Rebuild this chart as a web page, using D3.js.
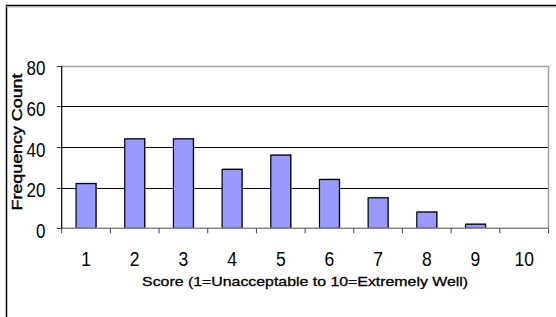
<!DOCTYPE html>
<html><head><meta charset="utf-8">
<script src="https://cdn.jsdelivr.net/npm/d3@7/dist/d3.min.js"></script>
<style>body{margin:0;background:#fff}svg{display:block;font-family:"Liberation Sans",Arial,sans-serif}</style>
</head><body><svg id="c" width="556" height="317"></svg>
<script>
const categories = ["1","2","3","4","5","6","7","8","9","10"];
const counts = [22, 44, 44, 29, 36, 24, 15, 8, 2, 0];
const yTicks = [0, 20, 40, 60, 80];
const xTitle = "Score (1=Unacceptable to 10=Extremely Well)";
const yTitle = "Frequency Count";

const svg = d3.select("#c");
const L = 61.7, R = 548.5, T = 65.7, B = 228.3;
const x = d3.scaleBand().domain(categories).range([L, R]).paddingInner(0.59).paddingOuter(0.295);
const xb = d3.scaleBand().domain(categories).range([L, R]);
const y = d3.scaleLinear().domain([0, 80]).range([B, T]);

// chart border
svg.append("rect").attr("x", 6.5).attr("y", 5.5).attr("width", 600).attr("height", 400)
  .attr("fill", "none").attr("stroke", "#000").attr("stroke-width", 1.5);
svg.append("line").attr("x1", 6).attr("x2", 556).attr("y1", 6.8).attr("y2", 6.8).attr("stroke", "#999").attr("stroke-width", 1);

// gridlines
svg.append("g").selectAll("line").data(yTicks.filter(d => d > 0 && d < 80)).join("line")
  .attr("x1", L).attr("x2", R).attr("y1", d => Math.round(y(d)) + 0.5).attr("y2", d => Math.round(y(d)) + 0.5)
  .attr("stroke", "#000").attr("stroke-width", 1);
// plot border top & right (gray)
svg.append("path").attr("d", `M${L},${Math.round(T)+0.5}H${R}V${B}`).attr("fill", "none").attr("stroke", "#a0a0a0").attr("stroke-width", 1.5);

// bars with shadow
const barData = counts.map((v, i) => ({c: categories[i], v}));
svg.append("g").selectAll("rect").data(barData).join("rect")
  .attr("x", d => x(d.c) + 1).attr("y", d => y(d.v) - 1).attr("width", x.bandwidth()).attr("height", d => B - y(d.v) + 1)
  .attr("fill", "#aaa").attr("display", d => d.v > 0 ? null : "none");
svg.append("g").selectAll("rect").data(barData).join("rect")
  .attr("x", d => x(d.c)).attr("y", d => y(d.v)).attr("width", x.bandwidth()).attr("height", d => B - y(d.v))
  .attr("fill", "#9999ff").attr("stroke", "#000").attr("stroke-width", 1.2).attr("display", d => d.v > 0 ? null : "none");

// x axis
svg.append("line").attr("x1", L).attr("x2", R).attr("y1", B).attr("y2", B).attr("stroke", "#888").attr("stroke-width", 1.5);
svg.append("g").selectAll("line").data(d3.range(categories.length + 1)).join("line")
  .attr("x1", i => L + i * xb.step()).attr("x2", i => L + i * xb.step()).attr("y1", B).attr("y2", B + 5)
  .attr("stroke", "#444").attr("stroke-width", 1);
svg.append("g").selectAll("text").data(categories).join("text")
  .attr("transform", d => `translate(${xb(d) + xb.bandwidth() / 2},${B + 38}) scale(1,1.2)`)
  .attr("text-anchor", "middle").attr("font-size", 17.5).attr("fill", "#000").text(d => d);

// y axis
svg.append("line").attr("x1", L).attr("x2", L).attr("y1", T).attr("y2", B).attr("stroke", "#000").attr("stroke-width", 1.2);
svg.append("g").selectAll("line").data(yTicks).join("line")
  .attr("x1", L - 5).attr("x2", L).attr("y1", d => Math.round(y(d)) + 0.5).attr("y2", d => Math.round(y(d)) + 0.5)
  .attr("stroke", "#444");
svg.append("g").selectAll("text").data(yTicks).join("text")
  .attr("transform", d => `translate(45.5,${y(d) + 9.5}) scale(1,1.15)`)
  .attr("text-anchor", "end").attr("font-size", 17).attr("fill", "#000").text(d => d);

// titles
svg.append("text").attr("x", (L + R) / 2).attr("y", 286).attr("text-anchor", "middle")
  .attr("font-size", 13).attr("fill", "#000").attr("stroke", "#000").attr("stroke-width", 0.3)
  .attr("textLength", 326).attr("lengthAdjust", "spacingAndGlyphs").text(xTitle);
svg.append("text").attr("transform", `translate(22,${142}) rotate(-90)`).attr("text-anchor", "middle")
  .attr("font-size", 14).attr("fill", "#000").attr("stroke", "#000").attr("stroke-width", 0.4)
  .attr("textLength", 137).attr("lengthAdjust", "spacingAndGlyphs").text(yTitle);
</script></body></html>
